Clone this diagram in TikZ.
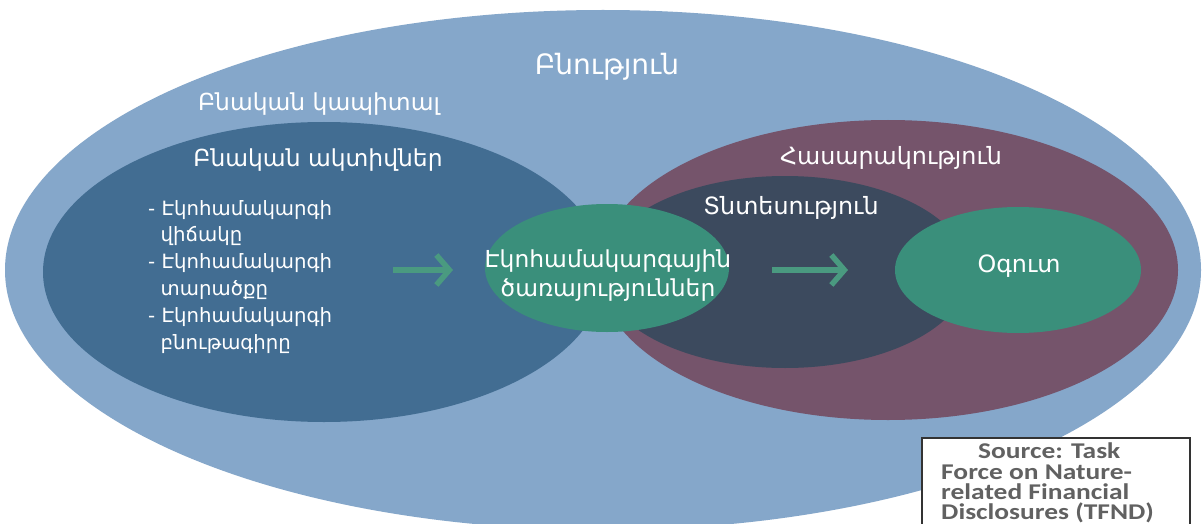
\documentclass[tikz,border=0pt]{standalone}
\usepackage{fontspec}
\setmainfont{DejaVu Sans}
\newfontfamily\srcfont[FakeStretch=1.22]{Carlito}
\usetikzlibrary{arrows.meta}
\definecolor{natureC}{HTML}{85A7CA}
\definecolor{assetsC}{HTML}{426D92}
\definecolor{societyC}{HTML}{75546B}
\definecolor{economyC}{HTML}{3C4A5E}
\definecolor{greenC}{HTML}{3A8F7B}
\definecolor{arrowC}{HTML}{4A9A80}
\tikzset{
  lbl/.style={text=white, inner sep=0pt, align=center},
  flowarrow/.style={draw=arrowC, line width=5.5pt, -{Straight Barb[length=13pt,width=30pt]}},
}
\begin{document}
\begin{tikzpicture}[x=1pt,y=-1pt]
\useasboundingbox (0,0) rectangle (1204,524);
\fill[white] (0,0) rectangle (1204,524);
\begin{scope}
\clip (0,0) rectangle (1204,524);
\fill[natureC] (603,270) ellipse [x radius=598, y radius=260];
\end{scope}
\fill[assetsC] (324,272) ellipse [x radius=281, y radius=150];
\fill[societyC] (888,270) ellipse [x radius=290, y radius=150];
\fill[economyC] (785,272) ellipse [x radius=184, y radius=96];
\fill[greenC] (607,268) ellipse [x radius=122, y radius=64];
\fill[greenC] (1018,270) ellipse [x radius=123, y radius=63];

\node[lbl, font=\fontsize{28}{32}\selectfont] (nature) at (607,67) {Բնություն};
\node[lbl, font=\fontsize{23.4}{27}\selectfont] (capital) at (319,104) {Բնական կապիտալ};
\node[lbl, font=\fontsize{23.4}{27}\selectfont] (assets) at (318,160) {Բնական ակտիվներ};
\node[lbl, font=\fontsize{23.8}{27}\selectfont] (society) at (891,158) {Հասարակություն};
\node[lbl, font=\fontsize{23.8}{27}\selectfont] (economy) at (791,208) {Տնտեսություն};
\node[lbl, font=\fontsize{23.8}{27}\selectfont] (benefit) at (1019,266) {Օգուտ};
\node[lbl, font=\fontsize{23.4}{29}\selectfont] (services) at (608,276) {Էկոհամակարգային\\ծառայություններ};
\node[lbl, anchor=north west, align=left, font=\fontsize{19.7}{26.8}\selectfont] (list) at (148,200)
 {- Էկոհամակարգի\\\ \ վիճակը\\- Էկոհամակարգի\\\ \ տարածքը\\- Էկոհամակարգի\\\ \ բնութագիրը};

\coordinate (a1s) at (393,270);
\coordinate (a1e) at (453,270);
\coordinate (a2s) at (772,270);
\coordinate (a2e) at (848,270);
\draw[flowarrow] (a1s) -- (a1e);
\draw[flowarrow] (a2s) -- (a2e);

\node[draw=black!80, line width=2pt, fill=white, minimum width=268pt, minimum height=95pt, anchor=north west, inner sep=0pt] (srcbox) at (921,437) {};
\node[anchor=north west, align=left, inner sep=0pt, font=\srcfont\bfseries\fontsize{22.5}{20.3}\selectfont, text=black!62] (src) at (941,443)
 {\hspace*{37pt}Source: Task\\Force on Nature-\\related Financial\\Disclosures (TFND)};
\end{tikzpicture}
\end{document}
